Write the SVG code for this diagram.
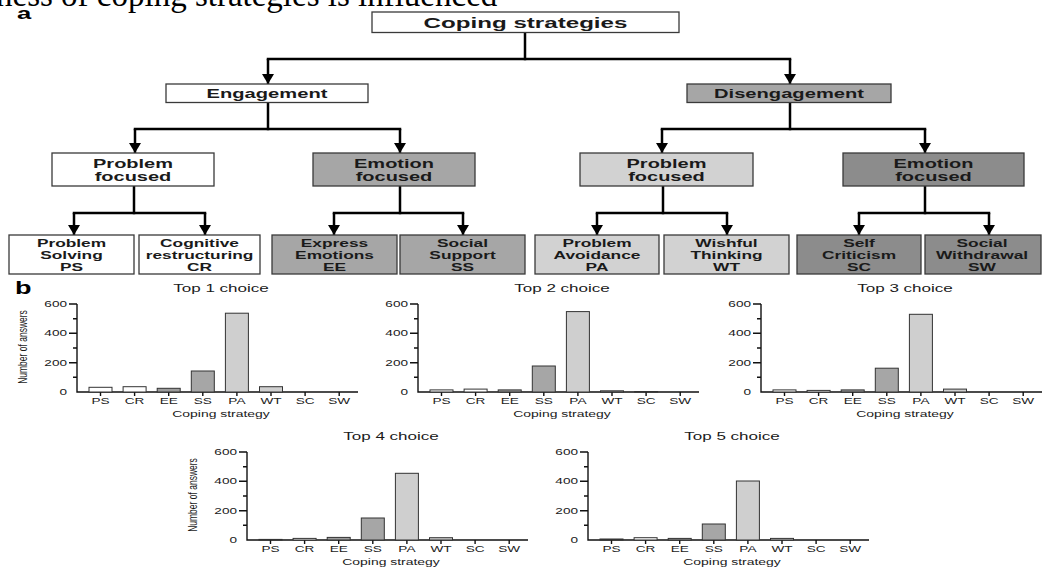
<svg xmlns="http://www.w3.org/2000/svg" xmlns:xlink="http://www.w3.org/1999/xlink" width="1043" height="567" viewBox="0 0 1043 567">
<style>
.bg{fill:#fff}
.box{stroke:#3a3a3a;stroke-width:1.3}
.w{fill:#fff}.g1{fill:#a6a6a6}.g2{fill:#d2d2d2}.g3{fill:#8c8c8c}
.tn{font-family:"Liberation Sans",Arial,sans-serif;font-weight:bold;fill:#1a1a1a;text-anchor:middle}
.s1{font-size:15px}.s2{font-size:12px}.s3{font-size:12.5px}.s4{font-size:10.5px}
.ln{fill:none;stroke:#000;stroke-width:2.5;stroke-linecap:square}
.arr{fill:none;stroke:#000;stroke-width:2.5;marker-end:url(#ah)}
.ax{fill:none;stroke:#111;stroke-width:1.4}
.ct{font-family:"Liberation Sans",Arial,sans-serif;fill:#1a1a1a}
.tk{font-size:8.5px;text-anchor:end}
.cl{font-size:8.5px;text-anchor:middle}
.xt{font-size:9px;text-anchor:middle}
.ti{font-size:11px;text-anchor:middle}
.yl{font-size:8.5px;text-anchor:middle}
.bar{stroke:#333;stroke-width:1}
.bw{fill:#fff}.be{fill:#9c9c9c}.bs{fill:#a6a6a6}.bp{fill:#cfcfcf}
.serif{font-family:"Liberation Serif","Times New Roman",serif;font-size:33px;fill:#000}
.lab{font-family:"Liberation Sans",Arial,sans-serif;font-weight:bold;fill:#000}
</style>
<defs>
<marker id="ah" markerUnits="userSpaceOnUse" viewBox="0 0 10 12" markerWidth="10" markerHeight="12" refX="10" refY="6" orient="auto">
<path d="M0,0L10,6L0,12z" fill="#000"/>
</marker>
<g id="axes">
<path class="ax" d="M77,304V392H358"/>
<path class="ax" d="M69,304H77M69,333.3H77M69,362.7H77M73,318.7H77M73,348H77M73,377.3H77"/>
<path class="ax" d="M100.5,392V396M134.6,392V396M168.7,392V396M202.8,392V396M236.9,392V396M271,392V396M305.1,392V396M339.2,392V396"/>
<g class="ct tk">
<text transform="translate(67,307) scale(1.6,1)">600</text>
<text transform="translate(67,336.3) scale(1.6,1)">400</text>
<text transform="translate(67,365.7) scale(1.6,1)">200</text>
<text transform="translate(67,395) scale(1.6,1)">0</text>
</g>
<g class="ct cl">
<text transform="translate(100.5,404) scale(1.6,1)">PS</text>
<text transform="translate(134.6,404) scale(1.6,1)">CR</text>
<text transform="translate(168.7,404) scale(1.6,1)">EE</text>
<text transform="translate(202.8,404) scale(1.6,1)">SS</text>
<text transform="translate(236.9,404) scale(1.6,1)">PA</text>
<text transform="translate(271,404) scale(1.6,1)">WT</text>
<text transform="translate(305.1,404) scale(1.6,1)">SC</text>
<text transform="translate(339.2,404) scale(1.6,1)">SW</text>
</g>
<text class="ct xt" transform="translate(221,417) scale(1.55,1)">Coping strategy</text>
</g>
</defs>
<rect class="bg" x="0" y="0" width="1043" height="567"/>
<text class="serif" x="-4" y="6">ness of coping strategies is influenced</text>
<text class="lab" font-size="16" transform="translate(17,19) scale(1.6,1)">a</text>
<text class="lab" font-size="18" transform="translate(15,294) scale(1.5,1)">b</text>

<g id="connectors">
<path class="ln" d="M525,32V59"/>
<path class="ln" d="M268,59H790"/>
<path class="arr" d="M268,59V84"/>
<path class="arr" d="M790,59V84"/>

<path class="ln" d="M268,103V129"/>
<path class="ln" d="M135,129H400"/>
<path class="arr" d="M135,129V153"/>
<path class="arr" d="M400,129V153"/>

<path class="ln" d="M790,103V129"/>
<path class="ln" d="M662,129H925"/>
<path class="arr" d="M662,129V153"/>
<path class="arr" d="M925,129V153"/>

<path class="ln" d="M134,186V213"/>
<path class="ln" d="M74,213H205"/>
<path class="arr" d="M74,213V235"/>
<path class="arr" d="M205,213V235"/>

<path class="ln" d="M400,186V213"/>
<path class="ln" d="M334,213H463"/>
<path class="arr" d="M334,213V235"/>
<path class="arr" d="M463,213V235"/>

<path class="ln" d="M663,186V213"/>
<path class="ln" d="M597,213H727"/>
<path class="arr" d="M597,213V235"/>
<path class="arr" d="M727,213V235"/>

<path class="ln" d="M925,186V213"/>
<path class="ln" d="M859,213H989"/>
<path class="arr" d="M859,213V235"/>
<path class="arr" d="M989,213V235"/>
</g>

<g id="n-coping">
<rect class="box w" x="372" y="12" width="307" height="20.5"/>
<text class="tn s1" transform="translate(525.5,27.5) scale(1.61,1)">Coping strategies</text>
</g>
<g id="n-engagement">
<rect class="box w" x="166" y="84" width="202" height="18.5"/>
<text class="tn s2" transform="translate(267,97.5) scale(1.68,1)">Engagement</text>
</g>
<g id="n-disengagement">
<rect class="box g1" x="687" y="84" width="204" height="18.5"/>
<text class="tn s2" transform="translate(789,97.5) scale(1.68,1)">Disengagement</text>
</g>

<g id="n-eng-problem">
<rect class="box w" x="52" y="153" width="162" height="33"/>
<text class="tn s3" transform="translate(133,167.5) scale(1.6,1)"><tspan x="0">Problem</tspan><tspan x="0" dy="14">focused</tspan></text>
</g>
<g id="n-eng-emotion">
<rect class="box g1" x="313" y="153" width="162" height="33"/>
<text class="tn s3" transform="translate(394,167.5) scale(1.6,1)"><tspan x="0">Emotion</tspan><tspan x="0" dy="14">focused</tspan></text>
</g>
<g id="n-dis-problem">
<rect class="box g2" x="580" y="153" width="173" height="33"/>
<text class="tn s3" transform="translate(666.5,167.5) scale(1.6,1)"><tspan x="0">Problem</tspan><tspan x="0" dy="14">focused</tspan></text>
</g>
<g id="n-dis-emotion">
<rect class="box g3" x="843" y="153" width="181" height="33"/>
<text class="tn s3" transform="translate(933.5,167.5) scale(1.6,1)"><tspan x="0">Emotion</tspan><tspan x="0" dy="14">focused</tspan></text>
</g>

<g id="n-ps">
<rect class="box w" x="9" y="235" width="125" height="39"/>
<text class="tn s4" transform="translate(71.5,247) scale(1.65,1)"><tspan x="0">Problem</tspan><tspan x="0" dy="12">Solving</tspan><tspan x="0" dy="12">PS</tspan></text>
</g>
<g id="n-cr">
<rect class="box w" x="139" y="235" width="121" height="39"/>
<text class="tn s4" transform="translate(199.5,247) scale(1.65,1)"><tspan x="0">Cognitive</tspan><tspan x="0" dy="12">restructuring</tspan><tspan x="0" dy="12">CR</tspan></text>
</g>
<g id="n-ee">
<rect class="box g1" x="272" y="235" width="125" height="39"/>
<text class="tn s4" transform="translate(334.5,247) scale(1.65,1)"><tspan x="0">Express</tspan><tspan x="0" dy="12">Emotions</tspan><tspan x="0" dy="12">EE</tspan></text>
</g>
<g id="n-ss">
<rect class="box g1" x="400" y="235" width="125" height="39"/>
<text class="tn s4" transform="translate(462.5,247) scale(1.65,1)"><tspan x="0">Social</tspan><tspan x="0" dy="12">Support</tspan><tspan x="0" dy="12">SS</tspan></text>
</g>
<g id="n-pa">
<rect class="box g2" x="535" y="235" width="124" height="39"/>
<text class="tn s4" transform="translate(597,247) scale(1.65,1)"><tspan x="0">Problem</tspan><tspan x="0" dy="12">Avoidance</tspan><tspan x="0" dy="12">PA</tspan></text>
</g>
<g id="n-wt">
<rect class="box g2" x="664" y="235" width="125" height="39"/>
<text class="tn s4" transform="translate(726.5,247) scale(1.65,1)"><tspan x="0">Wishful</tspan><tspan x="0" dy="12">Thinking</tspan><tspan x="0" dy="12">WT</tspan></text>
</g>
<g id="n-sc">
<rect class="box g3" x="797" y="235" width="124" height="39"/>
<text class="tn s4" transform="translate(859,247) scale(1.65,1)"><tspan x="0">Self</tspan><tspan x="0" dy="12">Criticism</tspan><tspan x="0" dy="12">SC</tspan></text>
</g>
<g id="n-sw">
<rect class="box g3" x="925" y="235" width="116" height="39"/>
<text class="tn s4" transform="translate(982,247) scale(1.65,1)"><tspan x="0">Social</tspan><tspan x="0" dy="12">Withdrawal</tspan><tspan x="0" dy="12">SW</tspan></text>
</g>

<g id="chart1">
<use xlink:href="#axes"/>
<text class="ct ti" transform="translate(221,292) scale(1.55,1)">Top 1 choice</text>
<text class="ct yl" transform="translate(27,347) scale(1.5,1) rotate(-90)">Number of answers</text>
<rect class="bar bw" x="89" y="387.3" width="23" height="4.7"/>
<rect class="bar bw" x="123.1" y="386.7" width="23" height="5.3"/>
<rect class="bar be" x="157.2" y="388.3" width="23" height="3.7"/>
<rect class="bar bs" x="191.3" y="371" width="23" height="21"/>
<rect class="bar bp" x="225.4" y="313.2" width="23" height="78.8"/>
<rect class="bar bp" x="259.5" y="386.7" width="23" height="5.3"/>
</g>
<g id="chart2" transform="translate(341,0)">
<use xlink:href="#axes"/>
<text class="ct ti" transform="translate(221,292) scale(1.55,1)">Top 2 choice</text>
<rect class="bar bw" x="89" y="389.9" width="23" height="2.1"/>
<rect class="bar bw" x="123.1" y="389.1" width="23" height="2.9"/>
<rect class="bar be" x="157.2" y="389.9" width="23" height="2.1"/>
<rect class="bar bs" x="191.3" y="366" width="23" height="26"/>
<rect class="bar bp" x="225.4" y="311.6" width="23" height="80.4"/>
<rect class="bar bp" x="259.5" y="390.8" width="23" height="1.2"/>
<rect class="bar bp" x="293.6" y="391.5" width="23" height="0.5"/>
</g>
<g id="chart3" transform="translate(684,0)">
<use xlink:href="#axes"/>
<text class="ct ti" transform="translate(221,292) scale(1.55,1)">Top 3 choice</text>
<rect class="bar bw" x="89" y="389.9" width="23" height="2.1"/>
<rect class="bar bw" x="123.1" y="390.4" width="23" height="1.6"/>
<rect class="bar be" x="157.2" y="389.9" width="23" height="2.1"/>
<rect class="bar bs" x="191.3" y="368.2" width="23" height="23.8"/>
<rect class="bar bp" x="225.4" y="314.3" width="23" height="77.7"/>
<rect class="bar bp" x="259.5" y="389.1" width="23" height="2.9"/>
</g>
<g id="chart4" transform="translate(170,148)">
<use xlink:href="#axes"/>
<text class="ct ti" transform="translate(221,292) scale(1.55,1)">Top 4 choice</text>
<text class="ct yl" transform="translate(27,347) scale(1.5,1) rotate(-90)">Number of answers</text>
<rect class="bar bw" x="89" y="391.4" width="23" height="0.6"/>
<rect class="bar bw" x="123.1" y="390.4" width="23" height="1.6"/>
<rect class="bar be" x="157.2" y="389.4" width="23" height="2.6"/>
<rect class="bar bs" x="191.3" y="370" width="23" height="22"/>
<rect class="bar bp" x="225.4" y="325.3" width="23" height="66.7"/>
<rect class="bar bp" x="259.5" y="389.7" width="23" height="2.3"/>
</g>
<g id="chart5" transform="translate(511,148)">
<use xlink:href="#axes"/>
<text class="ct ti" transform="translate(221,292) scale(1.55,1)">Top 5 choice</text>
<rect class="bar bw" x="89" y="391" width="23" height="1"/>
<rect class="bar bw" x="123.1" y="389.7" width="23" height="2.3"/>
<rect class="bar be" x="157.2" y="390.4" width="23" height="1.6"/>
<rect class="bar bs" x="191.3" y="376" width="23" height="16"/>
<rect class="bar bp" x="225.4" y="333" width="23" height="59"/>
<rect class="bar bp" x="259.5" y="390.4" width="23" height="1.6"/>
</g>
</svg>
